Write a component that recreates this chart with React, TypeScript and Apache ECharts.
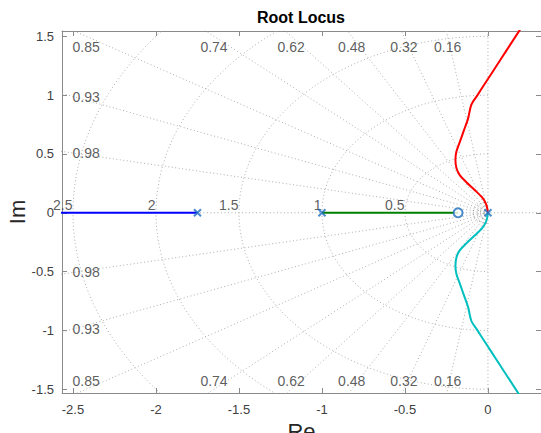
import React, { useEffect, useRef } from "react";
import * as echarts from "echarts";

// axis extents
const xMin = -2.566;
const xMax = 0.3195;
const yMin = -1.532;
const yMax = 1.545;

// open-loop poles and zeros
const poleRe = [-1.75, -1, 0];
const poleIm = [0, 0, 0];
const zeroRe = [-0.18];
const zeroIm = [0];

// real-axis branches
const blueRe = [-3, -1.75];
const blueIm = [0, 0];
const greenRe = [-1, -0.18];
const greenIm = [0, 0];

// complex branch (upper half, red); the lower (cyan) one is its conjugate
const upperRe = [0, -0.01, -0.035, -0.085, -0.13, -0.17, -0.19, -0.196, -0.19, -0.17, -0.145, -0.12, -0.1, -0.063, -0.022, 0.075, 0.19, 0.26];
const upperIm = [0, 0.07, 0.13, 0.2, 0.26, 0.32, 0.38, 0.45, 0.52, 0.6, 0.7, 0.8, 0.92, 1.0, 1.09, 1.3, 1.55, 1.7];

// s-plane grid
const dampingRatios = [0.16, 0.32, 0.48, 0.62, 0.74, 0.85, 0.93, 0.98];
const dampingLabels = ["0.16", "0.32", "0.48", "0.62", "0.74", "0.85", "0.93", "0.98"];
const naturalFreqs = [0.5, 1, 1.5, 2, 2.5];
const freqLabels = ["0.5", "1", "1.5", "2", "2.5"];
const smallFreqs = [0.03, 0.06, 0.09];

const FONT = "'Liberation Sans', Arial, Helvetica, sans-serif";
const GRID_COLOR = "#adadad";
const AXIS_COLOR = "#8a8a8a";
const MARK_COLOR = "#1f6fc0";

function pairs(re: number[], im: number[]) {
  return re.map((r, i) => [r, im[i]]);
}

function semicircle(w: number) {
  const pts: number[][] = [];
  for (let a = 90; a <= 270; a += 2) {
    const t = (a * Math.PI) / 180;
    pts.push([w * Math.cos(t), w * Math.sin(t)]);
  }
  return pts;
}

export default function App() {
  const ref = useRef<HTMLDivElement>(null);

  useEffect(() => {
    if (!ref.current) return;
    const chart = echarts.init(ref.current, undefined, { renderer: "svg" });

    const gridLine = (data: number[][], color = GRID_COLOR) => ({
      type: "line",
      data,
      symbol: "none",
      silent: true,
      clip: true,
      z: 1,
      lineStyle: { color, width: 1, type: [1, 2.5] },
      xAxisIndex: 0,
      yAxisIndex: 0,
    });

    const series: any[] = [];
    // real and imaginary axes (zeta = 1 and zeta = 0)
    series.push(gridLine([[-3, 0], [1, 0]]));
    series.push(gridLine([[0, -2], [0, 2]]));
    // damping rays
    dampingRatios.forEach((z) => {
      const s = Math.sqrt(1 - z * z);
      series.push(gridLine([[0, 0], [-4 * z, 4 * s]]));
      series.push(gridLine([[0, 0], [-4 * z, -4 * s]]));
    });
    // natural-frequency circles
    naturalFreqs.forEach((w) => series.push(gridLine(semicircle(w))));
    smallFreqs.forEach((w) => series.push(gridLine(semicircle(w), "#8c8c8c")));

    // damping labels
    const labelData: any[] = [];
    dampingRatios.forEach((z, i) => {
      const s = Math.sqrt(1 - z * z);
      const tanT = s / z;
      const xTop = -1.5 / tanT;
      if (xTop >= -2.5) {
        labelData.push({
          value: [xTop, 1.5],
          label: { show: true, formatter: dampingLabels[i], position: "bottom", distance: 3 },
        });
        labelData.push({
          value: [xTop, -1.5],
          label: { show: true, formatter: dampingLabels[i], position: "top", distance: 1 },
        });
      } else {
        const yL = 2.5 * tanT;
        labelData.push({
          value: [-2.5, yL],
          label: { show: true, formatter: dampingLabels[i], position: "right", distance: -1 },
        });
        labelData.push({
          value: [-2.5, -yL],
          label: { show: true, formatter: dampingLabels[i], position: "right", distance: -1 },
        });
      }
    });
    naturalFreqs.forEach((w, i) => {
      labelData.push({
        value: [-w, 0],
        label: {
          show: true,
          formatter: freqLabels[i],
          position: [0, 0],
          align: "right",
          verticalAlign: "bottom",
        },
      });
    });
    series.push({
      type: "scatter",
      data: labelData,
      symbolSize: 1,
      silent: true,
      z: 2,
      itemStyle: { color: "rgba(0,0,0,0)" },
      label: { color: "#333333", fontSize: 14, fontFamily: FONT },
    });

    // loci
    const locus = (re: number[], im: number[], color: string) => ({
      type: "line",
      data: pairs(re, im),
      symbol: "none",
      smooth: 0.3,
      clip: true,
      z: 5,
      lineStyle: { color, width: 2 },
    });
    series.push(locus(blueRe, blueIm, "#0000ff"));
    series.push(locus(greenRe, greenIm, "#008000"));
    series.push(locus(upperRe, upperIm, "#ff0000"));
    series.push(locus(upperRe, upperIm.map((v) => -v), "#00bfbf"));

    // poles and zeros
    series.push({
      type: "scatter",
      data: pairs(poleRe, poleIm),
      symbol: "path://M0,0L10,10M10,0L0,10",
      symbolSize: 7,
      z: 8,
      itemStyle: { color: "none", borderColor: MARK_COLOR, borderWidth: 2 },
    });
    series.push({
      type: "scatter",
      data: pairs(zeroRe, zeroIm),
      symbol: "emptyCircle",
      symbolSize: 9,
      z: 8,
      itemStyle: { color: MARK_COLOR, borderColor: MARK_COLOR, borderWidth: 2 },
    });

    const axisCommon = {
      type: "value",
      axisLine: { show: true, onZero: false, lineStyle: { color: AXIS_COLOR, width: 1 } },
      axisTick: { show: true, inside: true, length: 5, lineStyle: { color: AXIS_COLOR } },
      splitLine: { show: false },
    };

    chart.setOption({
      animation: false,
      backgroundColor: "#ffffff",
      grid: { left: 62, right: 0, top: 31, bottom: 40, containLabel: false, outerBoundsMode: "none" },
      graphic: [
        {
          type: "text",
          x: 301,
          y: 17,
          style: {
            text: "Root Locus",
            fontSize: 16,
            fontWeight: "bold",
            fontFamily: FONT,
            fill: "#000000",
            textAlign: "center",
            textVerticalAlign: "middle",
          },
        },
      ],
      xAxis: [
        {
          ...axisCommon,
          position: "bottom",
          min: xMin,
          max: xMax,
          name: "Re",
          nameLocation: "middle",
          nameGap: 26,
          nameTextStyle: { fontSize: 22, fontFamily: FONT, color: "#262626" },
          axisLabel: {
            show: true,
            showMinLabel: false,
            showMaxLabel: false,
            margin: 10,
            fontSize: 13,
            fontFamily: FONT,
            color: "#404040",
          },
        },
        {
          ...axisCommon,
          position: "top",
          min: xMin,
          max: xMax,
          axisLabel: { show: false },
        },
      ],
      yAxis: [
        {
          ...axisCommon,
          position: "left",
          min: yMin,
          max: yMax,
          name: "Im",
          nameLocation: "middle",
          nameGap: 34,
          nameRotate: 90,
          nameMoveOverlap: false,
          nameTextStyle: { fontSize: 22, fontFamily: FONT, color: "#262626" },
          axisLabel: {
            show: true,
            showMinLabel: false,
            showMaxLabel: false,
            margin: 8,
            fontSize: 13,
            fontFamily: FONT,
            color: "#404040",
          },
        },
        {
          ...axisCommon,
          position: "right",
          min: yMin,
          max: yMax,
          axisLabel: { show: false },
        },
      ],
      series,
    });

    return () => chart.dispose();
  }, []);

  return (
    <div
      ref={ref}
      style={{ position: "fixed", left: 0, top: 0, width: 541, height: 433, background: "#fff" }}
    />
  );
}
